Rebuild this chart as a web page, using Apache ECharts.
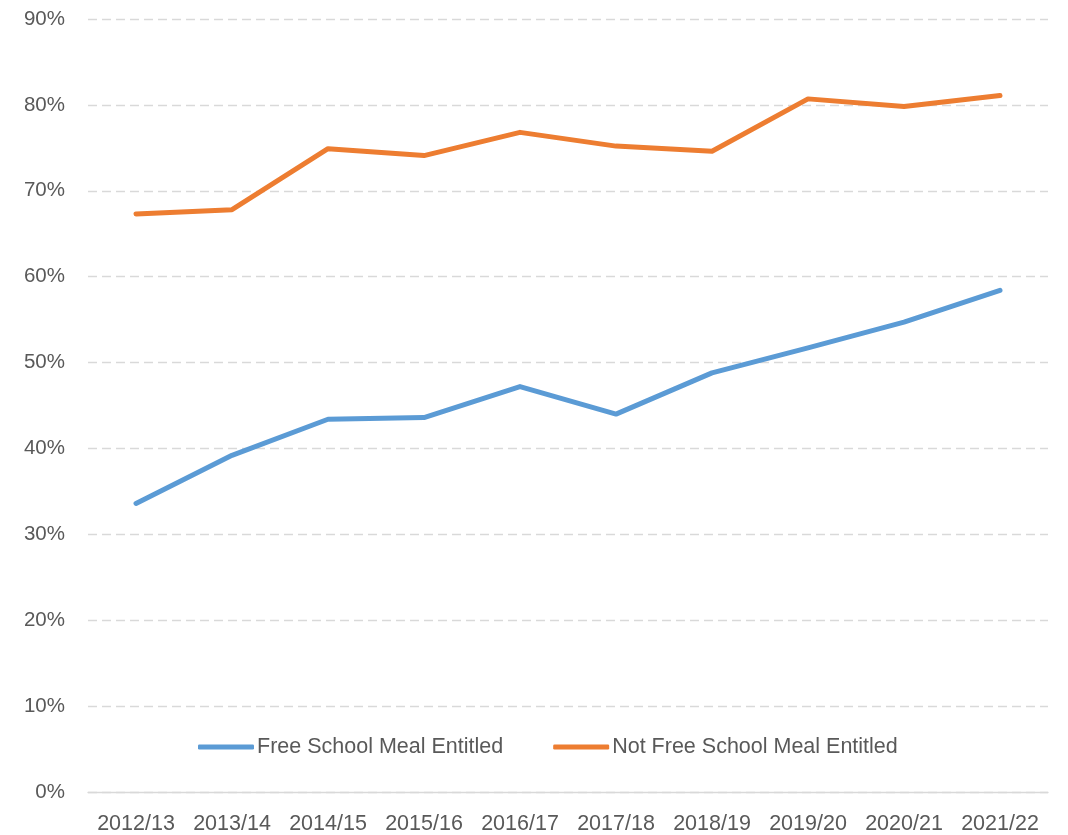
<!DOCTYPE html>
<html>
<head>
<meta charset="utf-8">
<script src="https://cdn.jsdelivr.net/npm/echarts@6/dist/echarts.min.js"></script>
<style>
html,body{margin:0;padding:0;background:#fff;}
#chart{width:1068px;height:835px;}
</style>
</head>
<body>
<div id="chart"></div>
<script>
const categories = ['2012/13','2013/14','2014/15','2015/16','2016/17','2017/18','2018/19','2019/20','2020/21','2021/22'];
const fsmValues = [33.6, 39.2, 43.4, 43.6, 47.2, 44.0, 48.8, 51.7, 54.7, 58.4];
const notFsmValues = [67.3, 67.8, 74.9, 74.1, 76.8, 75.2, 74.6, 80.7, 79.8, 81.1];
const seriesNames = ['Free School Meal Entitled', 'Not Free School Meal Entitled'];

const chart = echarts.init(document.getElementById('chart'), null, {renderer:'canvas'});
const font = 'Liberation Sans, Arial, sans-serif';
chart.setOption({
  animation: false,
  backgroundColor: '#ffffff',
  grid: {left: 88, right: 20, top: 19, bottom: 43, containLabel: false},
  legend: {
    left: 198, top: 736, padding: 0,
    itemWidth: 56, itemHeight: 5, itemGap: 50,
    icon: 'roundRect',
    textStyle: {fontFamily: font, fontSize: 21.5, color: '#595959', padding: [0,0,0,-2]},
    data: seriesNames
  },
  xAxis: {
    type: 'category',
    data: categories,
    boundaryGap: true,
    axisLine: {show: true, lineStyle: {color: '#D9D9D9', width: 1.3}},
    axisTick: {show: false},
    axisLabel: {fontFamily: font, fontSize: 21.5, color: '#595959', margin: 21, interval: 0}
  },
  yAxis: {
    type: 'value',
    min: 0, max: 90, interval: 10,
    axisLine: {show: false},
    axisTick: {show: false},
    axisLabel: {fontFamily: font, fontSize: 20.5, color: '#595959', margin: 23, formatter: '{value}%'},
    splitLine: {show: true, lineStyle: {color: '#D9D9D9', width: 1.3, type: [9, 5]}}
  },
  series: [
    {
      name: seriesNames[0], type: 'line', data: fsmValues,
      symbol: 'none', color: '#5B9BD5',
      lineStyle: {width: 5, color: '#5B9BD5', cap: 'round', join: 'round'}
    },
    {
      name: seriesNames[1], type: 'line', data: notFsmValues,
      symbol: 'none', color: '#ED7D31',
      lineStyle: {width: 5, color: '#ED7D31', cap: 'round', join: 'round'}
    }
  ]
});
</script>
</body>
</html>
